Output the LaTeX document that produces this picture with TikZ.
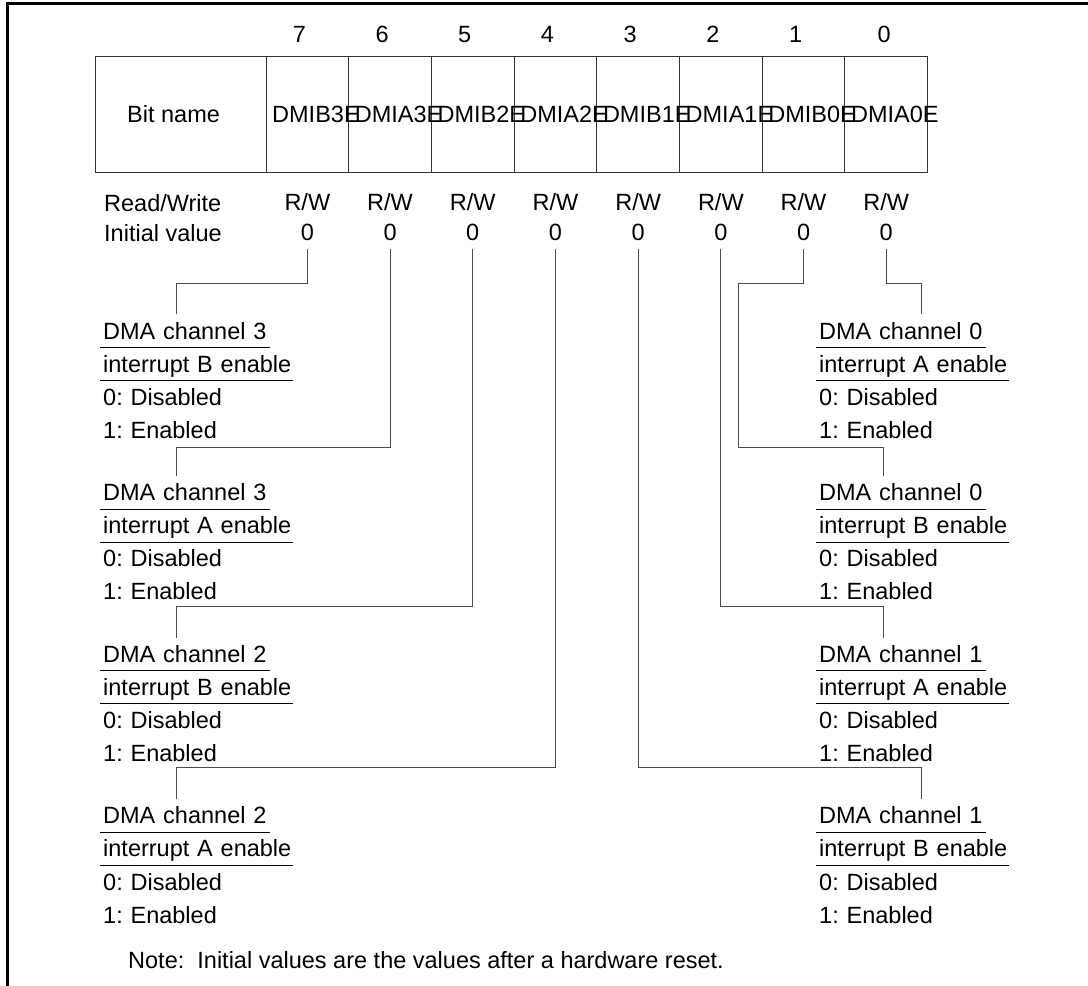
\documentclass[tikz,border=0pt]{standalone}
\usepackage{fontspec}
\setmainfont{Liberation Sans}
\usetikzlibrary{positioning}
\frenchspacing
\tikzset{
	cell/.style={draw=black!80,line width=1pt,inner sep=0pt,outer sep=0pt,minimum width=82.7pt,minimum height=116pt},
	namecell/.style={cell,minimum width=171pt},
	txt/.style={inner xsep=3pt,inner ysep=4.35pt,text height=20pt,text depth=4pt,font=\fontsize{23.5pt}{28pt}\selectfont},
	regname/.style={txt,inner xsep=0pt},
	desc/.style={txt,text width=250pt,align=left},
	conn/.style={draw=black!70,line width=1pt},
	uline/.style={draw=black,line width=1pt},
	frame/.style={draw=black,line width=3pt},
}

\begin{document}
\begin{tikzpicture}[x=1pt,y=-1pt]
	\useasboundingbox (0,0) rectangle (1088,986);
	\draw[frame] (7.5,986) |- (1088,3.3);

	% Register cells
	\node[namecell] (bname) at (180.5,114) {};
	\node[txt,right=29pt of bname.west] (bnametxt) {Bit name};
	\node[cell,right=0pt of bname] (c7) {};
	\node[cell,right=0pt of c7] (c6) {};
	\node[cell,right=0pt of c6] (c5) {};
	\node[cell,right=0pt of c5] (c4) {};
	\node[cell,right=0pt of c4] (c3) {};
	\node[cell,right=0pt of c3] (c2) {};
	\node[cell,right=0pt of c2] (c1) {};
	\node[cell,right=0pt of c1] (c0) {};

	% Bit names
	\node[regname,right=6pt of c7.west] (r7) {DMIB3E};
	\node[regname,right=6pt of c6.west] (r6) {DMIA3E};
	\node[regname,right=6pt of c5.west] (r5) {DMIB2E};
	\node[regname,right=6pt of c4.west] (r4) {DMIA2E};
	\node[regname,right=6pt of c3.west] (r3) {DMIB1E};
	\node[regname,right=6pt of c2.west] (r2) {DMIA1E};
	\node[regname,right=6pt of c1.west] (r1) {DMIB0E};
	\node[regname,right=6pt of c0.west] (r0) {DMIA0E};

	% Bit numbers
	\node[txt,above=5pt of c7,xshift=-8pt] (n7) {7};
	\node[txt,above=5pt of c6,xshift=-8pt] (n6) {6};
	\node[txt,above=5pt of c5,xshift=-8pt] (n5) {5};
	\node[txt,above=5pt of c4,xshift=-8pt] (n4) {4};
	\node[txt,above=5pt of c3,xshift=-8pt] (n3) {3};
	\node[txt,above=5pt of c2,xshift=-8pt] (n2) {2};
	\node[txt,above=5pt of c1,xshift=-8pt] (n1) {1};
	\node[txt,above=5pt of c0,xshift=-2pt] (n0) {0};

	% Read/Write and initial values
	\node[txt,anchor=west] (rwhead) at (101,203) {Read/Write};
	\node[txt,anchor=west] (ivhead) at (101,233.5) {Initial value};
	\node[txt,below=14pt of c7] (rw7) {R/W};
	\node[txt,below=14pt of c6] (rw6) {R/W};
	\node[txt,below=14pt of c5] (rw5) {R/W};
	\node[txt,below=14pt of c4] (rw4) {R/W};
	\node[txt,below=14pt of c3] (rw3) {R/W};
	\node[txt,below=14pt of c2] (rw2) {R/W};
	\node[txt,below=14pt of c1] (rw1) {R/W};
	\node[txt,below=14pt of c0] (rw0) {R/W};
	\node[txt,below=-2.8pt of rw7] (iv7) {0};
	\node[txt,below=-2.8pt of rw6] (iv6) {0};
	\node[txt,below=-2.8pt of rw5] (iv5) {0};
	\node[txt,below=-2.8pt of rw4] (iv4) {0};
	\node[txt,below=-2.8pt of rw3] (iv3) {0};
	\node[txt,below=-2.8pt of rw2] (iv2) {0};
	\node[txt,below=-2.8pt of rw1] (iv1) {0};
	\node[txt,below=-2.8pt of rw0] (iv0) {0};

	% Left descriptions
	\node[desc,anchor=west] (ib3) at (100,331) {DMA channel 3};
	\node[desc,below=0pt of ib3] (ib3x) {interrupt B enable};
	\node[desc,below=0pt of ib3x] (ib3d) {0: Disabled};
	\node[desc,below=0pt of ib3d] (ib3e) {1: Enabled};

	\node[desc,below=29.2pt of ib3e] (ia3) {DMA channel 3};
	\node[desc,below=0pt of ia3] (ia3x) {interrupt A enable};
	\node[desc,below=0pt of ia3x] (ia3d) {0: Disabled};
	\node[desc,below=0pt of ia3d] (ia3e) {1: Enabled};

	\node[desc,below=29.2pt of ia3e] (ib2) {DMA channel 2};
	\node[desc,below=0pt of ib2] (ib2x) {interrupt B enable};
	\node[desc,below=0pt of ib2x] (ib2d) {0: Disabled};
	\node[desc,below=0pt of ib2d] (ib2e) {1: Enabled};

	\node[desc,below=29.2pt of ib2e] (ia2) {DMA channel 2};
	\node[desc,below=0pt of ia2] (ia2x) {interrupt A enable};
	\node[desc,below=0pt of ia2x] (ia2d) {0: Disabled};
	\node[desc,below=0pt of ia2d] (ia2e) {1: Enabled};

	% Right descriptions
	\node[desc,anchor=west] (ia0) at (816,331) {DMA channel 0};
	\node[desc,below=0pt of ia0] (ia0x) {interrupt A enable};
	\node[desc,below=0pt of ia0x] (ia0d) {0: Disabled};
	\node[desc,below=0pt of ia0d] (ia0e) {1: Enabled};

	\node[desc,below=29.2pt of ia0e] (ib0) {DMA channel 0};
	\node[desc,below=0pt of ib0] (ib0x) {interrupt B enable};
	\node[desc,below=0pt of ib0x] (ib0d) {0: Disabled};
	\node[desc,below=0pt of ib0d] (ib0e) {1: Enabled};

	\node[desc,below=29.2pt of ib0e] (ia1) {DMA channel 1};
	\node[desc,below=0pt of ia1] (ia1x) {interrupt A enable};
	\node[desc,below=0pt of ia1x] (ia1d) {0: Disabled};
	\node[desc,below=0pt of ia1d] (ia1e) {1: Enabled};

	\node[desc,below=29.2pt of ia1e] (ib1) {DMA channel 1};
	\node[desc,below=0pt of ib1] (ib1x) {interrupt B enable};
	\node[desc,below=0pt of ib1x] (ib1d) {0: Disabled};
	\node[desc,below=0pt of ib1d] (ib1e) {1: Enabled};

	% Underlines
	\draw[uline] (ib3.south west) -- ++(170,0);
	\draw[uline] (ib3x.south west) -- ++(193,0);
	\draw[uline] (ia3.south west) -- ++(170,0);
	\draw[uline] (ia3x.south west) -- ++(193,0);
	\draw[uline] (ib2.south west) -- ++(170,0);
	\draw[uline] (ib2x.south west) -- ++(193,0);
	\draw[uline] (ia2.south west) -- ++(170,0);
	\draw[uline] (ia2x.south west) -- ++(193,0);
	\draw[uline] (ia0.south west) -- ++(170,0);
	\draw[uline] (ia0x.south west) -- ++(193,0);
	\draw[uline] (ib0.south west) -- ++(170,0);
	\draw[uline] (ib0x.south west) -- ++(193,0);
	\draw[uline] (ia1.south west) -- ++(170,0);
	\draw[uline] (ia1x.south west) -- ++(193,0);
	\draw[uline] (ib1.south west) -- ++(170,0);
	\draw[uline] (ib1x.south west) -- ++(193,0);

	% Connections
	\draw[conn] (iv7.south) -- ++(0,34.4) -| ([xshift=76pt]ib3.north west);
	\draw[conn] (iv6.south) -- ++(0,198.4) -| ([xshift=76pt]ia3.north west);
	\draw[conn] (iv5.south) -- ++(0,357.4) -| ([xshift=76pt]ib2.north west);
	\draw[conn] (iv4.south) -- ++(0,518.4) -| ([xshift=76pt]ia2.north west);
	\draw[conn] (iv3.south) -- ++(0,518.4) -| ([xshift=105pt]ib1.north west);
	\draw[conn] (iv2.south) -- ++(0,357.4) -| ([xshift=67pt]ia1.north west);
	\draw[conn] (iv1.south) -- ++(0,34.4) -- ++(-65,0) -- ++(0,164) -| ([xshift=67pt]ib0.north west);
	\draw[conn] (iv0.south) -- ++(0,34.4) -| ([xshift=105pt]ia0.north west);

	% Note
	\node[txt,anchor=west] (note) at (125,960.4) {Note:\ \ Initial values are the values after a hardware reset.};
\end{tikzpicture}
\end{document}
